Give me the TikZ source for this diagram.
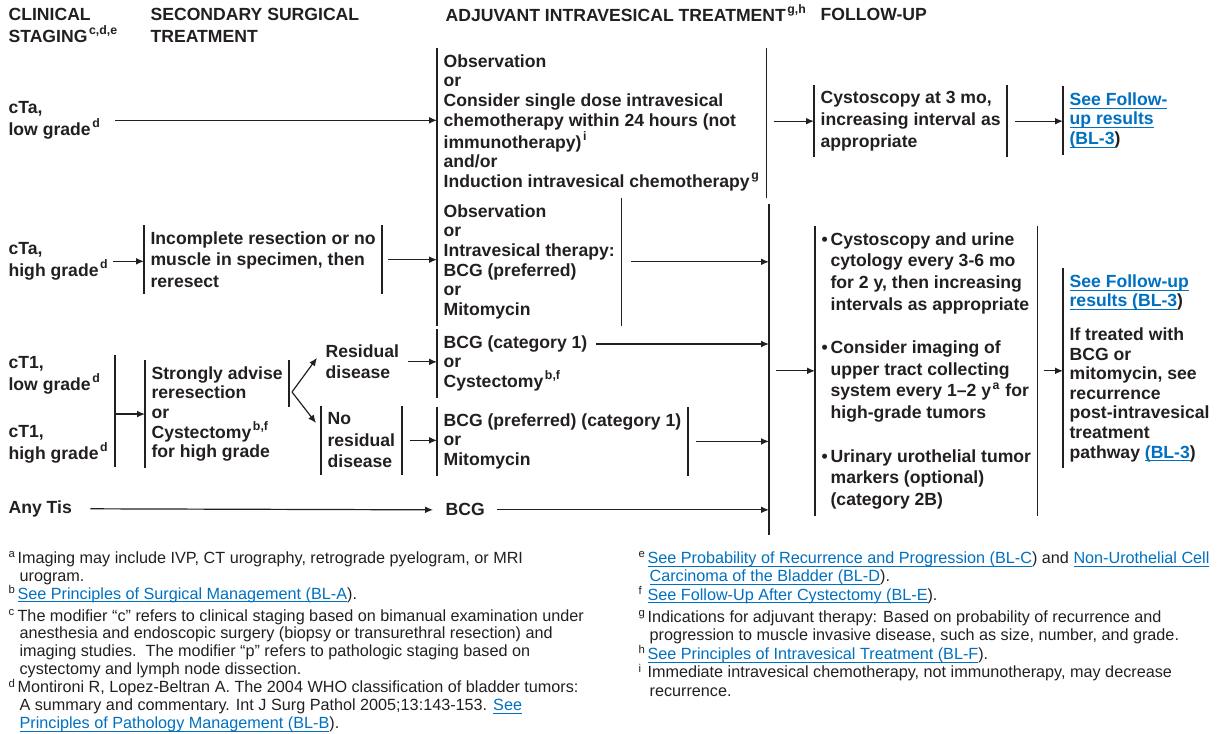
\documentclass[tikz,border=0pt]{standalone}
\usepackage{fontspec}
\setmainfont{Liberation Sans}
\usetikzlibrary{arrows.meta}
\definecolor{ink}{RGB}{35,31,32}
\definecolor{linkblue}{RGB}{0,112,192}
\newcommand{\fnote}[1]{\kern0.8pt\textsuperscript{#1}}
\newcommand{\lnk}[1]{\textcolor{linkblue}{\setbox0=\hbox{#1}\rlap{\rule[-1.6pt]{\wd0}{0.45pt}}\box0}}
\newcommand{\ftag}[1]{\makebox[4.5pt][l]{\textsuperscript{#1}}}
\newcommand{\fcont}{\hspace*{5.5pt}}
\newcommand{\bul}{\makebox[4.5pt][l]{\textbullet}}
\newcommand{\bind}{\hspace*{4.5pt}}

\begin{document}
\begin{tikzpicture}[x=0.5pt, y=-0.5pt, ink, line width=0.6pt,
  txt/.style={font=\bfseries\fontsize{8.8}{9.8}\selectfont, text=ink, align=left, anchor=north west, inner sep=0pt},
  wide/.style={font=\bfseries\fontsize{8.8}{10.8}\selectfont},
  box/.style={txt, inner xsep=3pt, inner ysep=3pt},
  foot/.style={font=\fontsize{8.1}{9.2}\selectfont, text=ink, align=left, anchor=north west, inner sep=0pt},
  bar/.style={line width=0.8pt},
  arr/.style={-{Latex[length=4pt,width=3.4pt]}}]
  \useasboundingbox (0,0) rectangle (1219,733);

  \node[txt, wide] (hclin) at (8,8) {CLINICAL\\STAGING\fnote{c,d,e}};
  \node[txt, wide] (hsec) at (150,8) {SECONDARY SURGICAL\\TREATMENT};
  \node[txt] (hadj) at (445,4) {ADJUVANT INTRAVESICAL TREATMENT\fnote{g,h}};
  \node[txt] (hfol) at (820,8) {FOLLOW-UP};

  \node[txt, wide] (cta1) at (8,101) {cTa,\\low grade\fnote{d}};
  \node[box] (adj1) at (437,48) {Observation\\or\\Consider single dose intravesical\\chemotherapy within 24 hours (not\\immunotherapy)\fnote{i}\\and/or\\Induction intravesical chemotherapy\fnote{g}};
  \node[box, wide] (fu1) at (814,85) {Cystoscopy at 3 mo,\\increasing interval as\\appropriate};
  \node[box] (see1) at (1063,86) {\lnk{See Follow-}\\\lnk{up results}\\\lnk{(BL-3})};

  \node[txt, wide] (cta2) at (8,242) {cTa,\\high grade\fnote{d}};
  \node[box, wide] (sec2) at (144,225) {Incomplete resection or no\\muscle in specimen, then\\reresect};
  \node[box] (adj2) at (437,198) {Observation\\or\\Intravesical therapy:\\BCG (preferred)\\or\\Mitomycin};

  \node[txt, wide] (ct1lo) at (8,356) {cT1,\\low grade\fnote{d}};
  \node[txt, wide] (ct1hi) at (8,425) {cT1,\\high grade\fnote{d}};
  \node[box] (sec3) at (145,360) {Strongly advise\\reresection\\or\\Cystectomy\fnote{b,f}\\for high grade};
  \node[txt, wide] (res) at (325,344) {Residual\\disease};
  \node[box, wide] (nores) at (321,406) {No\\residual\\disease};
  \node[box] (adj3) at (437,329) {BCG (category 1)\\or\\Cystectomy\fnote{b,f}};
  \node[box] (adj4) at (437,407) {BCG (preferred) (category 1)\\or\\Mitomycin};

  \node[txt] (tis) at (8,500) {Any Tis};
  \node[txt] (bcg) at (445,503) {BCG};

  \node[box, wide] (fu2) at (815,226) {\bul Cystoscopy and urine\\\bind cytology every 3-6 mo\\\bind for 2 y, then increasing\\\bind intervals as appropriate\\[11pt]\bul Consider imaging of\\\bind upper tract collecting\\\bind system every 1–2 y\fnote{a} for\\\bind high-grade tumors\\[11pt]\bul Urinary urothelial tumor\\\bind markers (optional)\\\bind (category 2B)};
  \node[box] (see2) at (1063,268) {\lnk{See Follow-up}\\\lnk{results (BL-3})\\[7pt]If treated with\\BCG or\\mitomycin, see\\recurrence\\post-intravesical\\treatment\\pathway \lnk{(BL-3})};

  \coordinate (colT) at (769,204);
  \coordinate (colB) at (769,535);
  \coordinate (stT) at (115,355);
  \coordinate (stB) at (115,467);
  \coordinate (split) at (292,392);
  \coordinate (a3) at ([xshift=1pt,yshift=-7.5pt]adj3.north east);

  \draw[bar] (adj1.north west) -- (adj1.south west);
  \draw[bar] (adj1.north east) -- (adj1.south east);
  \draw[bar] (fu1.north west) -- (fu1.south west);
  \draw[bar] (fu1.north east) -- (fu1.south east);
  \draw[bar] (see1.north west) -- (see1.south west);
  \draw[bar] (sec2.north west) -- (sec2.south west);
  \draw[bar] (sec2.north east) -- (sec2.south east);
  \draw[bar] (adj2.north west) -- (adj2.south west);
  \draw[bar] (adj2.north east) -- (adj2.south east);
  \draw[bar] (sec3.north west) -- (sec3.south west);
  \draw[bar] (sec3.north east) -- ([yshift=-23.5pt]sec3.north east);
  \draw[bar] (nores.north west) -- (nores.south west);
  \draw[bar] (nores.north east) -- (nores.south east);
  \draw[bar] (adj3.north west) -- (adj3.south west);
  \draw[bar] (adj4.north west) -- (adj4.south west);
  \draw[bar] (adj4.north east) -- (adj4.south east);
  \draw[bar] (fu2.north west) -- (fu2.south west);
  \draw[bar] (fu2.north east) -- (fu2.south east);
  \draw[bar] (see2.north west) -- (see2.south west);
  \draw[bar] (colT) -- (colB);
  \draw[bar] (stT) -- (stB);

  \draw[arr] ([xshift=7pt]cta1.east) -- (cta1.east -| adj1.west);
  \draw[arr] ([xshift=4pt]adj1.east |- fu1.west) -- (fu1.west);
  \draw[arr] ([xshift=4pt]fu1.east) -- (see1.west |- fu1.east);
  \draw[arr] ([xshift=2pt]cta2.east) -- (sec2.west |- cta2.east);
  \draw[arr] ([xshift=3pt]sec2.east) -- (adj2.west |- sec2.east);
  \draw[arr] ([xshift=5pt]adj2.east) -- (adj2.east -| colT);
  \draw[arr] (stT |- sec3.west) -- (sec3.west);
  \draw[arr] (split) -- ([xshift=-4pt,yshift=2pt]res.west);
  \draw[arr] (split) -- ([xshift=-2.5pt,yshift=-8.5pt]nores.north west);
  \draw[arr] ([xshift=4pt]res.east) -- (adj3.west |- res.east);
  \draw[arr] (a3) -- (a3 -| colT);
  \draw[arr] ([xshift=4pt]nores.east) -- (adj4.west |- nores.east);
  \draw[arr] ([xshift=4pt]adj4.east) -- (adj4.east -| colT);
  \draw[arr] ([xshift=9pt]tis.east) -- ([xshift=-6pt]bcg.west);
  \draw[arr] ([xshift=6pt]bcg.east) -- (bcg.east -| colT);
  \draw[arr] ([xshift=3.5pt]colT |- fu2.west) -- (fu2.west);
  \draw[arr] ([xshift=3pt]fu2.east) -- (see2.west |- fu2.east);

  \node[foot, font=\fontsize{8.1}{8.95}\selectfont] (notesL) at (8,551) {\ftag{a}Imaging may include IVP, CT urography, retrograde pyelogram, or MRI\\\fcont urogram.\\\ftag{b}\lnk{See Principles of Surgical Management (BL-A}).\\[2pt]\ftag{c}The modifier “c” refers to clinical staging based on bimanual examination under\\\fcont anesthesia and endoscopic surgery (biopsy or transurethral resection) and\\\fcont imaging studies.\ \ The modifier “p” refers to pathologic staging based on\\\fcont cystectomy and lymph node dissection.\\\ftag{d}Montironi R, Lopez-Beltran A. The 2004 WHO classification of bladder tumors:\\\fcont A summary and commentary. Int J Surg Pathol 2005;13:143-153. \lnk{See}\\\fcont\lnk{Principles of Pathology Management (BL-B}).};
  \node[foot] (notesR) at (638,551) {\ftag{e}\lnk{See Probability of Recurrence and Progression (BL-C}) and \lnk{Non-Urothelial Cell}\\\fcont\lnk{Carcinoma of the Bladder (BL-D}).\\\ftag{f}\lnk{See Follow-Up After Cystectomy (BL-E}).\\[2pt]\ftag{g}Indications for adjuvant therapy: Based on probability of recurrence and\\\fcont progression to muscle invasive disease, such as size, number, and grade.\\\ftag{h}\lnk{See Principles of Intravesical Treatment (BL-F}).\\\ftag{i}Immediate intravesical chemotherapy, not immunotherapy, may decrease\\\fcont recurrence.};
\end{tikzpicture}
\end{document}
